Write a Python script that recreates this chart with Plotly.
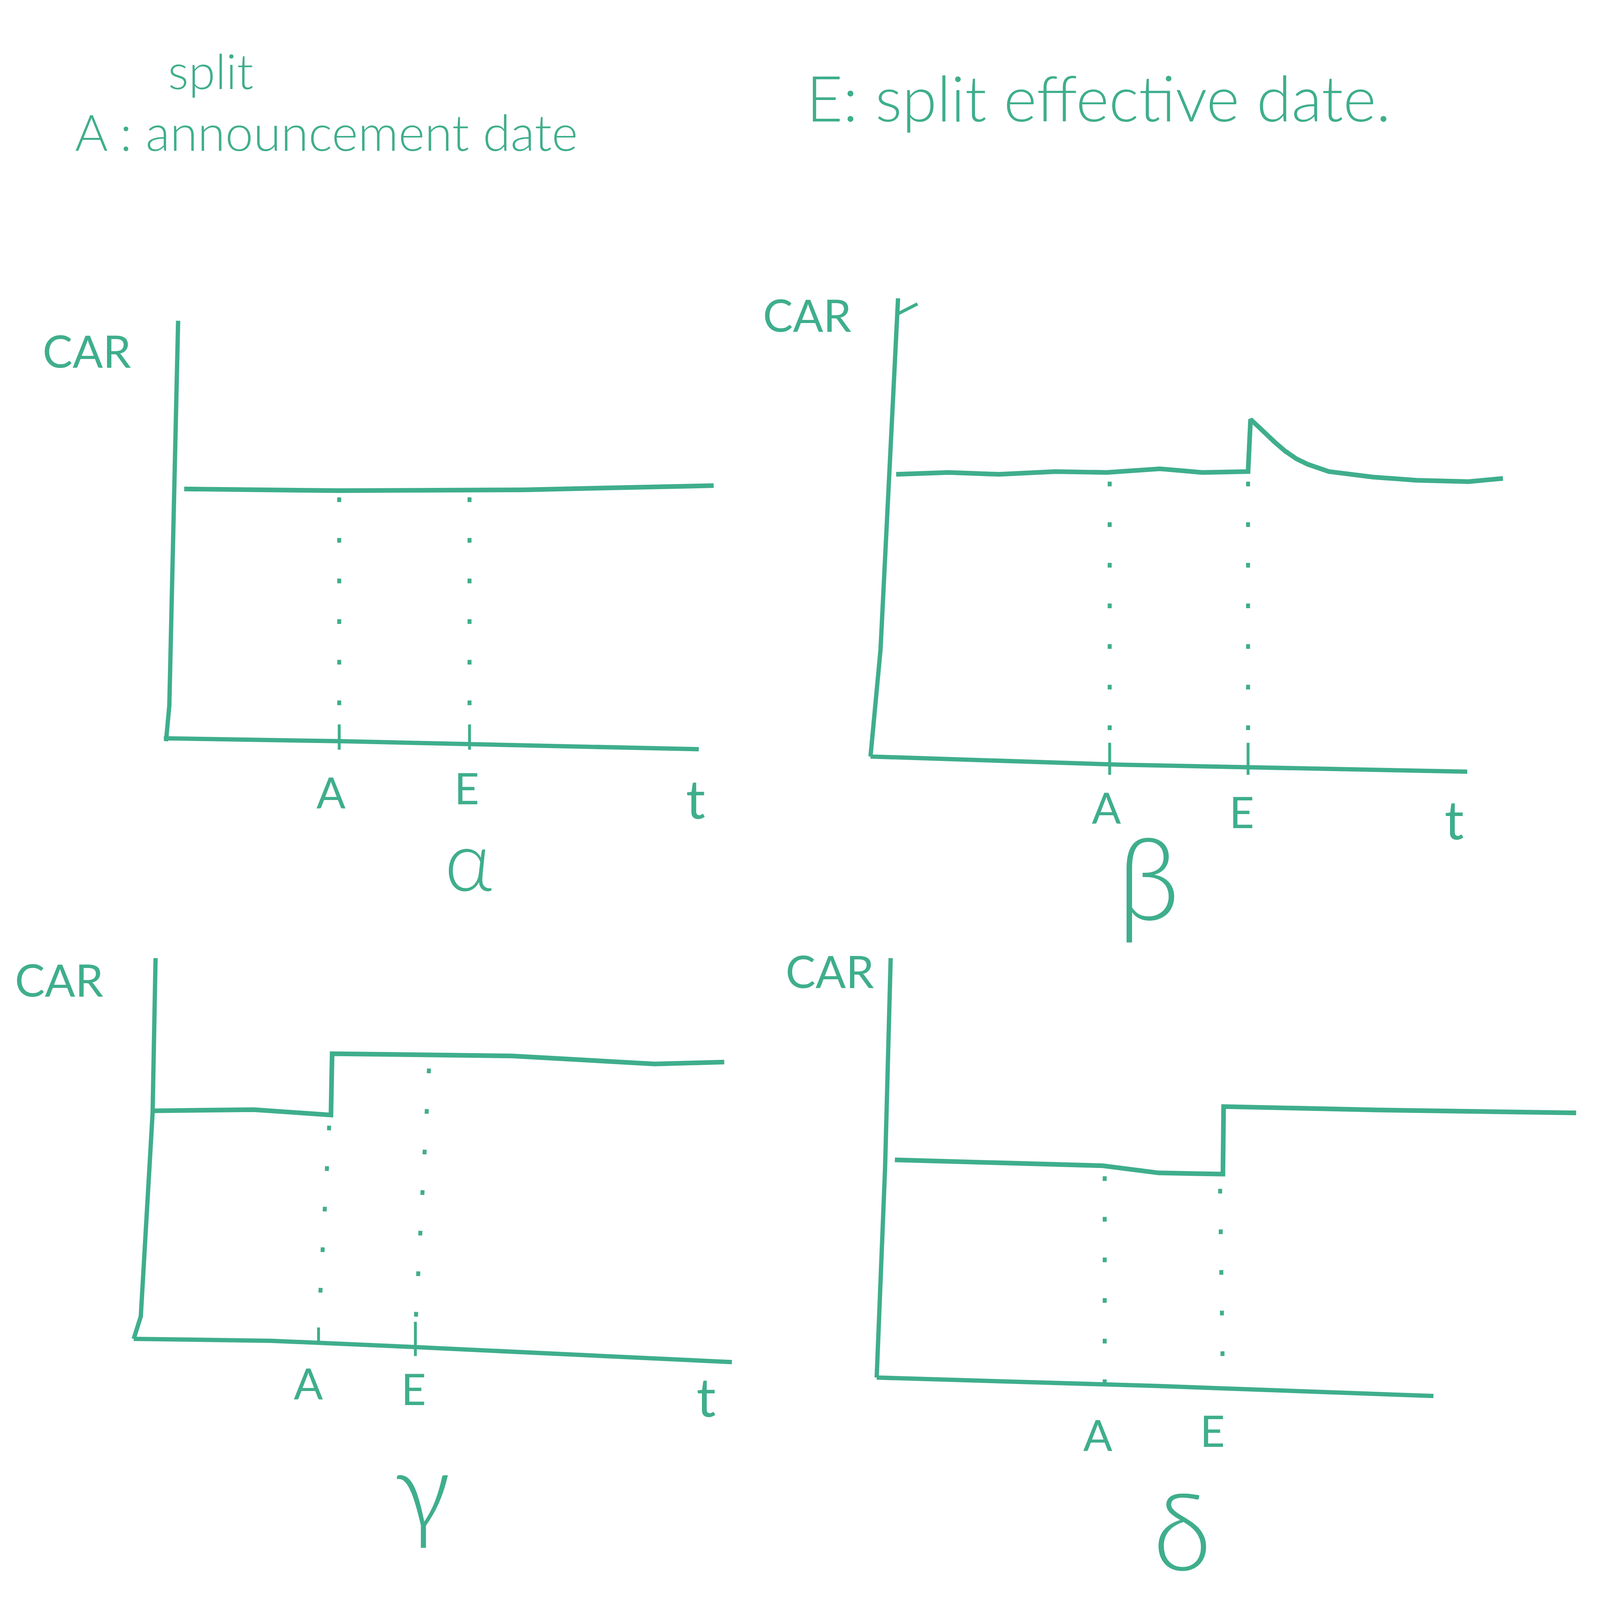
"""
Stock split event study sketch: CAR around announcement (A) and effective (E) date
"""
import plotly.graph_objects as go

INK = "#3fae8c"
FONT = "Lato"

# ---- data (t: event time, car: cumulative abnormal return, sketch units) ----
# panel alpha: no reaction at A or E
a_yaxis_t = [0.0, 0.06, 0.22]
a_yaxis_car = [0.0, 0.85, 10.0]
a_xaxis_t = [-0.04, 3.2, 9.69]
a_xaxis_car = [0.07, 0.0, -0.19]
a_car_t = [0.33, 3.15, 6.5, 9.96]
a_car_car = [6.0, 5.96, 5.98, 6.08]
a_A = 3.15
a_E = 5.52

# panel beta: jump at E, then decays back
b_yaxis_t = [-0.05, 0.11, 0.39]
b_yaxis_car = [0.0, 2.33, 10.0]
b_hook_t = [0.37, 0.7]
b_hook_car = [9.65, 9.88]
b_xaxis_t = [-0.05, 3.98, 9.48]
b_xaxis_car = [0.0, -0.18, -0.33]
b_car_t = [0.36, 1.2, 2.0, 2.9, 3.72, 4.57, 5.25, 5.98, 6.02, 6.12, 6.23, 6.4, 6.57,
           6.75, 6.93, 7.27, 7.97, 8.67, 9.5, 10.05]
b_car_car = [6.16, 6.2, 6.16, 6.22, 6.2, 6.28, 6.2, 6.22, 7.36, 7.22, 7.09, 6.87, 6.67,
             6.5, 6.38, 6.22, 6.1, 6.03, 6.0, 6.07]
b_A = 3.77
b_E = 5.98

# panel gamma: jump at A, stays up
g_yaxis_t = [-0.03, 0.09, 0.29, 0.34]
g_yaxis_car = [0.0, 0.59, 5.94, 10.0]
g_xaxis_t = [-0.03, 2.3, 4.66, 10.1]
g_xaxis_car = [0.0, -0.05, -0.21, -0.61]
g_car_t = [0.31, 2.0, 3.31, 3.33, 6.38, 8.79, 9.97]
g_car_car = [5.99, 6.02, 5.88, 7.49, 7.43, 7.22, 7.27]
g_A = [3.28, 3.1]
g_E = [4.97, 4.74]

# panel delta: jump at E, stays up
d_yaxis_t = [0.0, 0.12, 0.2]
d_yaxis_car = [0.0, 5.0, 10.0]
d_xaxis_t = [0.0, 4.0, 7.96]
d_xaxis_car = [0.0, -0.2, -0.44]
d_car_t = [0.26, 3.23, 4.03, 4.95, 4.96, 7.16, 10.0]
d_car_car = [5.19, 5.05, 4.88, 4.85, 6.46, 6.38, 6.31]
d_A = 3.26
d_E = [4.91, 4.95]

panel_names = ["\u03b1", "\u03b2", "\u03b3", "\u03b4"]

# ---- layout helpers (sketch is 1560 x 1575 units, scaled to the page) ----
SW, SH = 1560.0, 1575.0
S = 1 / 1.088          # the page gets photographed a bit magnified
W, H = round(4424 * S), round(4466 * S)
YR = [-4.4, 10.4]


def dom(ox, oy, sx, sy, xr):
    xd = [max(0, (ox + sx * xr[0]) / SW), min(1, (ox + sx * xr[1]) / SW)]
    yd = [1 - (oy - sy * YR[0]) / SH, 1 - (oy - sy * YR[1]) / SH]
    return xd, yd, xr


panels = [
    # origin x, origin y, units per t, units per car, t range
    dom(160, 725, 54.0, 41.3, [-1.9, 10.3]),
    dom(855, 740, 61.5, 45.0, [-1.9, 10.3]),
    dom(130, 1312, 58.0, 37.4, [-1.9, 10.3]),
    dom(858, 1350, 68.7, 41.2, [-1.9, 10.05]),
]

fig = go.Figure()


def solid(t, car, k, w=12):
    fig.add_trace(go.Scatter(x=t, y=car, mode="lines", xaxis=f"x{k}", yaxis=f"y{k}",
                             line=dict(color=INK, width=w * S),
                             showlegend=False, hoverinfo="skip"))


def dotted(t, car, k):
    fig.add_trace(go.Scatter(x=t, y=car, mode="lines", xaxis=f"x{k}", yaxis=f"y{k}",
                             line=dict(color=INK, width=11 * S,
                                       dash=f"{13 * S:.0f}px,{100 * S:.0f}px"),
                             showlegend=False, hoverinfo="skip"))


# alpha
solid(a_yaxis_t, a_yaxis_car, 1)
solid(a_xaxis_t, a_xaxis_car, 1)
solid(a_car_t, a_car_car, 1, 13)
dotted([a_A, a_A], [5.8, 0.3], 1)
dotted([a_E, a_E], [5.8, 0.3], 1)
solid([a_A, a_A], [0.4, -0.2], 1, 8)
solid([a_E, a_E], [0.4, -0.2], 1, 8)

# beta
solid(b_yaxis_t, b_yaxis_car, 2)
solid(b_hook_t, b_hook_car, 2, 9)
solid(b_xaxis_t, b_xaxis_car, 2)
solid(b_car_t, b_car_car, 2, 13)
dotted([b_A, b_A], [6.0, 0.2], 2)
dotted([b_E, b_E], [6.0, 0.2], 2)
solid([b_A, b_A], [0.3, -0.4], 2, 8)
solid([b_E, b_E], [0.3, -0.4], 2, 8)

# gamma
solid(g_yaxis_t, g_yaxis_car, 3)
solid(g_xaxis_t, g_xaxis_car, 3)
solid(g_car_t, g_car_car, 3, 13)
dotted(g_A, [5.6, 0.3], 3)
dotted(g_E, [7.1, 0.3], 3)
solid([g_A[1], g_A[1]], [0.3, -0.1], 3, 8)
solid([g_E[1], g_E[1]], [0.45, -0.45], 3, 8)

# delta
solid(d_yaxis_t, d_yaxis_car, 4)
solid(d_xaxis_t, d_xaxis_car, 4)
solid(d_car_t, d_car_car, 4, 13)
dotted([d_A, d_A], [4.8, -0.3], 4)
dotted(d_E, [4.5, -0.1], 4)

# axes: hidden, only used for placement
for k, (xd, yd, xr) in enumerate(panels, start=1):
    fig.layout[f"xaxis{k}"] = dict(domain=xd, range=xr, visible=False, fixedrange=True,
                                   anchor=f"y{k}")
    fig.layout[f"yaxis{k}"] = dict(domain=yd, range=YR, visible=False, fixedrange=True,
                                   anchor=f"x{k}")

# ---- labels ----
labels = [
    # panel, t, car, text, size, weight
    (1, -1.44, 9.3, "CAR", 125, 400), (1, a_A - 0.15, -1.2, "A", 120, 400),
    (1, a_E - 0.05, -1.1, "E", 120, 400), (1, 9.63, -1.35, "t", 150, 400),
    (1, 5.5, -2.8, panel_names[0], 230, 300),
    (2, -1.06, 9.65, "CAR", 125, 400), (2, b_A - 0.05, -1.1, "A", 120, 400),
    (2, b_E - 0.1, -1.2, "E", 120, 400), (2, 9.27, -1.35, "t", 150, 400),
    (2, 4.39, -2.6, panel_names[1], 320, 300),
    (3, -1.29, 9.45, "CAR", 125, 400), (3, 2.93, -1.15, "A", 120, 400),
    (3, 4.71, -1.3, "E", 120, 400), (3, 9.66, -1.5, "t", 150, 400),
    (3, 4.86, -3.9, panel_names[2], 300, 300),
    (4, -0.67, 9.7, "CAR", 125, 400), (4, 3.16, -1.35, "A", 120, 400),
    (4, 4.8, -1.25, "E", 120, 400), (4, 4.37, -3.6, panel_names[3], 300, 300),
]
for k, t, car, text, size, weight in labels:
    fig.add_annotation(x=t, y=car, xref=f"x{k}", yref=f"y{k}", text=text, showarrow=False,
                       xanchor="center", yanchor="middle",
                       font=dict(family=FONT, size=size * S, color=INK, weight=weight))

# top legend notes
notes = [
    (204, 66, "split", 135, "center"),
    (70, 126, "A : announcement date", 140, "left"),
    (788, 92, "E: split effective date.", 176, "left"),
]
for px, py, text, size, anchor in notes:
    fig.add_annotation(x=px / SW, y=1 - py / SH, xref="paper", yref="paper", text=text,
                       showarrow=False, xanchor=anchor, yanchor="middle",
                       font=dict(family=FONT, size=size * S, color=INK, weight=300))

fig.update_layout(
    width=W,
    height=H,
    margin=dict(l=0, r=0, t=0, b=0),
    paper_bgcolor="white",
    plot_bgcolor="rgba(0,0,0,0)",
    showlegend=False,
)

fig.write_html("out.html")
